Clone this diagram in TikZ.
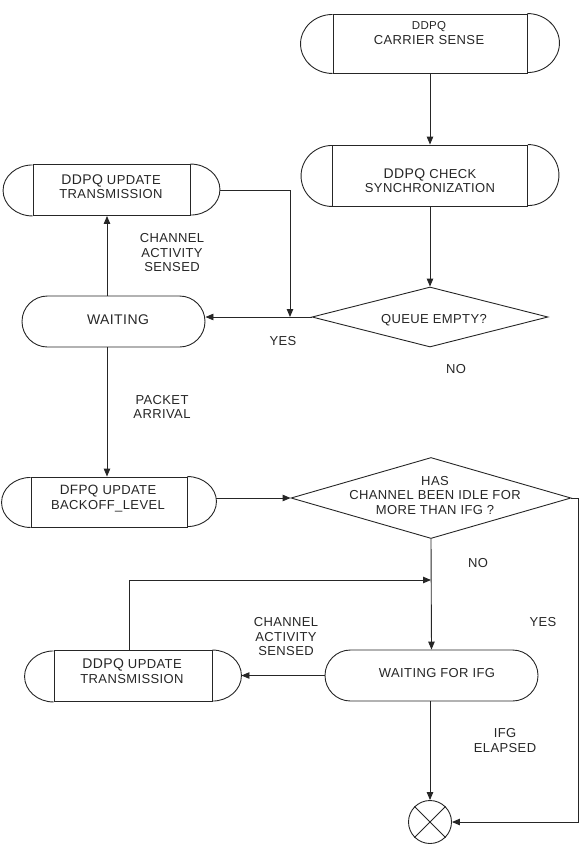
\documentclass[tikz,border=0pt]{standalone}
\usepackage{fontspec}
\setmainfont[LetterSpace=3]{Liberation Sans}
\usetikzlibrary{arrows.meta,shapes.geometric,shapes.misc}
\newcommand\drawcaps[3]{\draw[ln] (#1.north east) arc[start angle=90,end angle=-90,x radius=#2pt,y radius=#3pt] (#1.south west) arc[start angle=270,end angle=90,x radius=#2pt,y radius=#3pt];}
\newcommand\bigtx[1]{{\fontsize{14}{14.5}\selectfont #1}}
\begin{document}
\begin{tikzpicture}[x=1pt,y=-1pt,
  ln/.style={line width=0.9pt,black!85},
  arr/.style={ln,-{Triangle[length=8pt,width=6.5pt]}},
  procbox/.style={draw,ln,rectangle,inner sep=0pt},
  stad/.style={draw,ln,rounded rectangle,inner sep=0pt},
  dia/.style={draw,ln,diamond,inner sep=0pt},
  txt/.style={align=center,inner sep=0pt,text=black!85,font=\fontsize{13}{14.5}\selectfont}]
\useasboundingbox (0,0) rectangle (584,863);

% process boxes (inner rectangles) with caps
\node[procbox,minimum width=194pt,minimum height=59pt] (cs) at (430,43.5) {};
\drawcaps{cs}{32}{29.5}
\node[txt] (cs-t) at (429,33) {{\fontsize{11.5}{14.5}\selectfont DDPQ}\\CARRIER SENSE};

\node[procbox,minimum width=195pt,minimum height=61pt] (sync) at (430,175.5) {};
\drawcaps{sync}{31}{30.5}
\node[txt] (sync-t) at (430,180.5) {\bigtx{DDPQ} CHECK\\SYNCHRONIZATION};

\node[procbox,minimum width=157pt,minimum height=51pt] (upd1) at (111.5,190) {};
\drawcaps{upd1}{29.5}{25.5}
\node[txt] (upd1-t) at (111,186.5) {\bigtx{DDPQ} UPDATE\\TRANSMISSION};

\node[procbox,minimum width=156pt,minimum height=50pt] (bko) at (109,502) {};
\drawcaps{bko}{29}{25}
\node[txt] (bko-t) at (108,498.5) {{\fontsize{13.5}{14.5}\selectfont DFPQ} UPDATE\\BACKOFF\_LEVEL};

\node[procbox,minimum width=158pt,minimum height=51pt] (upd2) at (133,676) {};
\drawcaps{upd2}{29}{25.5}
\node[txt] (upd2-t) at (132,671) {\bigtx{DDPQ} UPDATE\\TRANSMISSION};

% stadiums
\node[stad,minimum width=183pt,minimum height=51pt] (waiting) at (113.5,321.5) {};
\node[txt,font=\fontsize{14}{14.5}\selectfont] (waiting-t) at (118,320) {WAITING};
\node[stad,minimum width=213pt,minimum height=51pt] (wifg) at (431.5,675.5) {};
\node[txt] (wifg-t) at (437,673) {WAITING FOR IFG};

% decisions
\node[dia,minimum width=236pt,minimum height=60pt] (queue) at (430,317) {};
\node[txt] (queue-t) at (434,320) {QUEUE EMPTY?};
\node[dia,minimum width=280pt,minimum height=81pt] (has) at (431,498) {};
\node[txt] (has-t) at (435,495.5) {HAS\\CHANNEL BEEN IDLE FOR\\MORE THAN IFG ?};

% end
\node[draw,ln,circle,minimum size=43pt,inner sep=0pt] (end) at (430,822) {};
\draw[ln] (end.north east) -- (end.south west) (end.north west) -- (end.south east);

% helper coordinates
\coordinate (xa) at (107,0);
\coordinate (xb) at (129,0);
\coordinate (j1) at (290,317);
\coordinate (j2) at (431,580);
\coordinate (j3) at (578,0);
\coordinate (upd1E) at ([xshift=29.5pt]upd1.east);
\coordinate (bkoE) at ([xshift=29pt]bko.east);
\coordinate (upd2E) at ([xshift=29pt]upd2.east);

% connectors
\draw[arr] (cs.south) -- (sync.north);
\draw[arr] (sync.south) -- (queue.north);
\draw[arr] (queue.west) -- (waiting.east |- queue.west);
\draw[arr] (upd1E) -| (j1);
\draw[arr] (waiting.north -| xa) -- (upd1.south -| xa);
\draw[arr] (waiting.south -| xa) -- (bko.north -| xa);
\draw[arr] (bkoE |- has.west) -- (has.west);
\draw[arr] (has.east) -- (has.east -| j3) |- (end.east);
\draw[arr] (has.south) -- (wifg.north);
\draw[arr] (upd2.north -| xb) |- (j2);
\draw[arr] (wifg.west) -- (upd2E |- wifg.west);
\draw[arr] (wifg.south -| end.north) -- (end.north);

% labels
\node[txt] (l1) at (172,253) {CHANNEL\\ACTIVITY\\SENSED};
\node[txt] (l2) at (283,341) {YES};
\node[txt] (l3) at (456,369) {NO};
\node[txt] (l4) at (162,407) {PACKET\\ARRIVAL};
\node[txt] (l5) at (478,563) {NO};
\node[txt] (l6) at (543,622) {YES};
\node[txt] (l7) at (286,637) {CHANNEL\\ACTIVITY\\SENSED};
\node[txt] (l8) at (505,740.5) {IFG\\ELAPSED};
\end{tikzpicture}
\end{document}
